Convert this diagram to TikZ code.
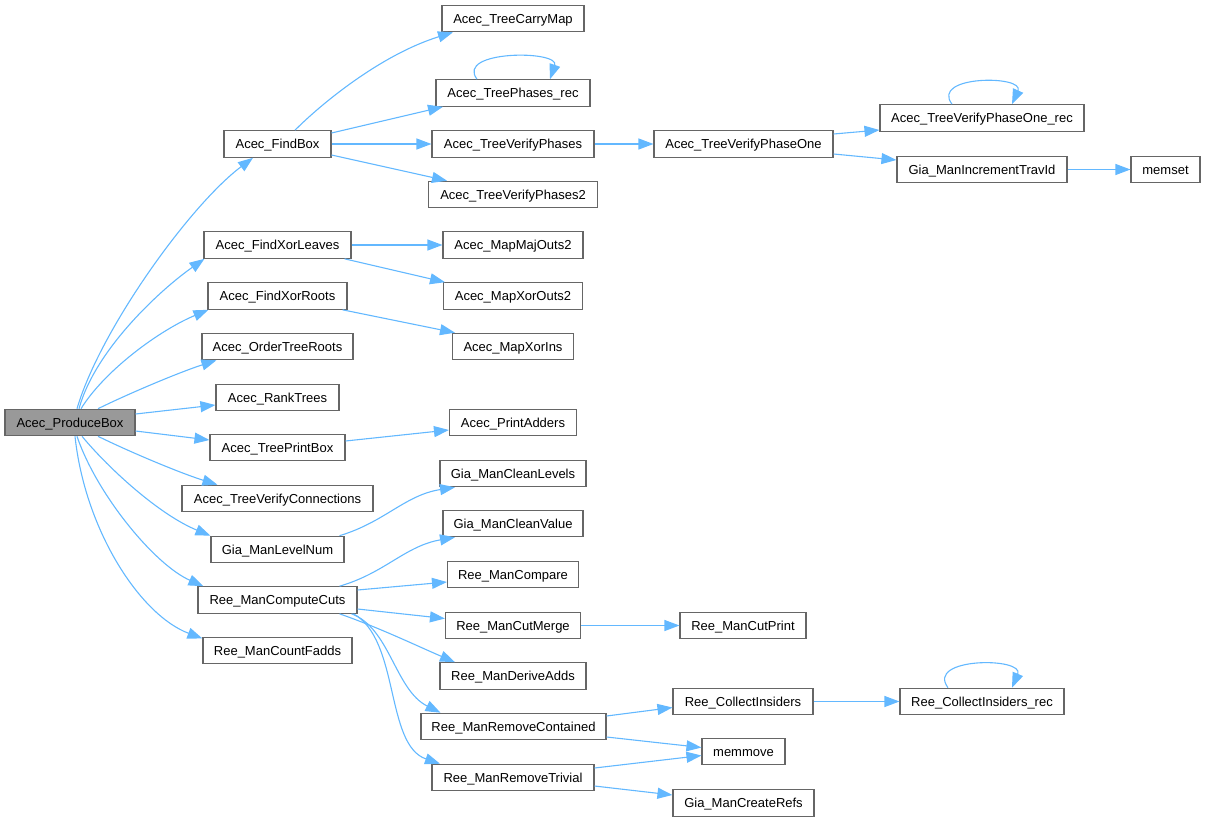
\documentclass[tikz,border=0pt]{standalone}
\usepackage{fontspec}
\setmainfont{Liberation Sans}
\usetikzlibrary{arrows.meta}
\definecolor{edgeblue}{HTML}{63B8FF}
\definecolor{boxgray}{HTML}{666666}
\definecolor{fillgray}{HTML}{999999}
\begin{document}
\begin{tikzpicture}[x=1pt,y=-1pt,
  fn/.style={draw=boxgray, line width=1.1pt, fill=white, inner sep=0pt,
    minimum height=26.5pt, text height=9.4pt, text depth=0pt,
    font=\fontsize{13pt}{15pt}\selectfont},
  rootfn/.style={fn, fill=fillgray},
  call/.style={draw=edgeblue, line width=1.1pt,
    -{Triangle[length=15pt,width=11pt,fill=edgeblue]}}]
\useasboundingbox (0,0) rectangle (1206,821);
% column 0
\node[rootfn, minimum width=130pt] (pb) at (70,422.5) {Acec\_ProduceBox};
% column 1
\node[fn, minimum width=107pt] (fb) at (277.5,144) {Acec\_FindBox};
\node[fn, minimum width=147pt] (fxl) at (277.5,245) {Acec\_FindXorLeaves};
\node[fn, minimum width=139pt] (fxr) at (277.5,296) {Acec\_FindXorRoots};
\node[fn, minimum width=151pt] (otr) at (277.5,346.5) {Acec\_OrderTreeRoots};
\node[fn, minimum width=123pt] (rt) at (277.5,397.5) {Acec\_RankTrees};
\node[fn, minimum width=135pt] (tpb) at (277.5,447.5) {Acec\_TreePrintBox};
\node[fn, minimum width=191pt] (tvc) at (277.5,498.5) {Acec\_TreeVerifyConnections};
\node[fn, minimum width=133pt] (lvl) at (277.5,549.5) {Gia\_ManLevelNum};
\node[fn, minimum width=159pt] (cc) at (277.5,600) {Ree\_ManComputeCuts};
\node[fn, minimum width=149pt] (cf) at (277.5,650.5) {Ree\_ManCountFadds};
% column 2
\node[fn, minimum width=142pt] (tcm) at (513,18.5) {Acec\_TreeCarryMap};
\node[fn, minimum width=154pt] (tpr) at (513,93) {Acec\_TreePhases\_rec};
\node[fn, minimum width=162pt] (tvp) at (513,144) {Acec\_TreeVerifyPhases};
\node[fn, minimum width=169pt] (tvp2) at (513,194.5) {Acec\_TreeVerifyPhases2};
\node[fn, minimum width=140pt] (mmo) at (513,245) {Acec\_MapMajOuts2};
\node[fn, minimum width=139pt] (mxo) at (513,296) {Acec\_MapXorOuts2};
\node[fn, minimum width=121pt] (mxi) at (513,346.5) {Acec\_MapXorIns};
\node[fn, minimum width=127pt] (pa) at (513,422.5) {Acec\_PrintAdders};
\node[fn, minimum width=146pt] (gcl) at (513,473.5) {Gia\_ManCleanLevels};
\node[fn, minimum width=140pt] (gcv) at (513,523.5) {Gia\_ManCleanValue};
\node[fn, minimum width=131pt] (rmc) at (513,574.5) {Ree\_ManCompare};
\node[fn, minimum width=135pt] (rcm) at (513,625.5) {Ree\_ManCutMerge};
\node[fn, minimum width=146pt] (rda) at (513,676) {Ree\_ManDeriveAdds};
\node[fn, minimum width=185pt] (rrc) at (513.5,726.5) {Ree\_ManRemoveContained};
\node[fn, minimum width=162pt] (rrt) at (513,777.5) {Ree\_ManRemoveTrivial};
% column 3
\node[fn, minimum width=179pt] (tvpo) at (743.5,144) {Acec\_TreeVerifyPhaseOne};
\node[fn, minimum width=126pt] (rcp) at (743,625.5) {Ree\_ManCutPrint};
\node[fn, minimum width=140pt] (rci) at (743,701.5) {Ree\_CollectInsiders};
\node[fn, minimum width=83pt] (mmv) at (743.5,751.5) {memmove};
\node[fn, minimum width=141pt] (gcr) at (743.5,803) {Gia\_ManCreateRefs};
% column 4
\node[fn, minimum width=204pt] (tvpor) at (982,118) {Acec\_TreeVerifyPhaseOne\_rec};
\node[fn, minimum width=170pt] (git) at (982,169.5) {Gia\_ManIncrementTravId};
\node[fn, minimum width=164pt] (rcir) at (982,701.5) {Ree\_CollectInsiders\_rec};
% column 5
\node[fn, minimum width=69pt] (ms) at (1165.5,169.5) {memset};

% edges from ProduceBox
\draw[call] ([xshift=7pt]pb.north) .. controls (100,330) and (190,205) .. ([xshift=-24.5pt]fb.south);
\draw[call] ([xshift=9pt]pb.north) .. controls (95,350) and (160,290) .. ([xshift=1pt]fxl.south west);
\draw[call] ([xshift=11pt]pb.north) .. controls (105,370) and (160,330) .. ([xshift=1pt]fxr.south west);
\draw[call] ([xshift=28pt]pb.north) .. controls (130,393) and (180,372) .. ([xshift=15pt]otr.south west);
\draw[call] ([yshift=8.5pt]pb.east) -- ([yshift=-7.5pt]rt.west);
\draw[call] ([yshift=-8.5pt]pb.east) -- ([yshift=7.5pt]tpb.west);
\draw[call] ([xshift=28pt]pb.south) .. controls (130,452) and (180,473) .. ([xshift=36pt]tvc.north west);
\draw[call] ([xshift=12pt]pb.south) .. controls (110,470) and (160,515) .. (lvl.north west);
\draw[call] ([xshift=7pt]pb.south) .. controls (97,495) and (155,565) .. ([xshift=6pt]cc.north west);
\draw[call] ([xshift=5pt]pb.south) .. controls (85,530) and (140,615) .. ([yshift=12pt]cf.west);
% FindBox
\draw[call] ([xshift=17.5pt]fb.north) .. controls (320,105) and (380,55) .. ([xshift=-60pt]tcm.south);
\draw[call] ([yshift=11pt]fb.east) -- ([xshift=-70pt]tpr.south);
\draw[call] (fb.east) -- (tvp.west);
\draw[call] ([yshift=-11pt]fb.east) -- ([xshift=-66pt]tvp2.north);
\draw[call] ([xshift=-36pt]tpr.north) .. controls (455,50) and (560,50) .. ([xshift=37pt]tpr.north);
\draw[call] (tvp.east) -- (tvpo.west);
\draw[call] ([yshift=10pt]tvpo.east) -- ([yshift=-12pt]tvpor.west);
\draw[call] ([yshift=-10pt]tvpo.east) -- ([yshift=9.5pt]git.west);
\draw[call] ([xshift=-30pt]tvpor.north) .. controls (930,75) and (1025,75) .. ([xshift=30pt]tvpor.north);
\draw[call] (git.east) -- (ms.west);
% XorLeaves / XorRoots / PrintBox
\draw[call] (fxl.east) -- (mmo.west);
\draw[call] ([xshift=67pt]fxl.south) -- ([xshift=-68pt]mxo.north);
\draw[call] ([xshift=65pt]fxr.south) -- ([xshift=-58pt]mxi.north);
\draw[call] ([yshift=6.5pt]tpb.east) -- ([yshift=-7.5pt]pa.west);
% LevelNum
\draw[call] ([xshift=62pt]lvl.north) .. controls (385,522) and (405,495) .. ([xshift=-58pt]gcl.south);
% ComputeCuts
\draw[call] ([xshift=62pt]cc.north) .. controls (385,573) and (405,546) .. ([xshift=-58pt]gcv.south);
\draw[call] ([yshift=10pt]cc.east) -- ([yshift=-7.5pt]rmc.west);
\draw[call] ([yshift=-9pt]cc.east) -- ([yshift=7pt]rcm.west);
\draw[call] ([xshift=62pt]cc.south) .. controls (380,628) and (415,645) .. ([xshift=-58pt]rda.north);
\draw[call] ([xshift=74pt]cc.south) .. controls (390,628) and (395,690) .. ([xshift=-73pt]rrc.north);
\draw[call] ([xshift=76pt]cc.south) .. controls (400,640) and (385,745) .. ([xshift=-73pt]rrt.north);
\draw[call] (rcm.east) -- (rcp.west);
% RemoveContained / RemoveTrivial
\draw[call] ([yshift=10.5pt]rrc.east) -- ([yshift=-6pt]rci.west);
\draw[call] ([yshift=-10.5pt]rrc.east) -- ([yshift=4pt]mmv.west);
\draw[call] ([yshift=9.5pt]rrt.east) -- ([yshift=-4pt]mmv.west);
\draw[call] ([yshift=-8.5pt]rrt.east) -- ([yshift=8pt]gcr.west);
\draw[call] (rci.east) -- (rcir.west);
\draw[call] ([xshift=-34pt]rcir.north) .. controls (925,657) and (1025,657) .. ([xshift=30pt]rcir.north);
\end{tikzpicture}
\end{document}
